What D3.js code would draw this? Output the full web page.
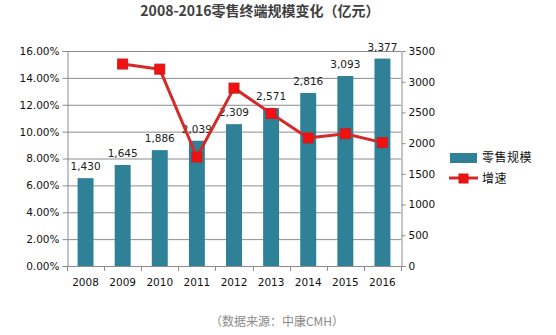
<!DOCTYPE html>
<html><head><meta charset="utf-8">
<script src="https://cdn.jsdelivr.net/npm/d3@7"></script>
<style>body{margin:0;background:#fff}svg{display:block}</style>
</head><body><svg id="c" width="556" height="335"></svg>
<script>
const years = ["2008","2009","2010","2011","2012","2013","2014","2015","2016"];
const scale = [1430,1645,1886,2039,2309,2571,2816,3093,3377];
const growthYears = ["2009","2010","2011","2012","2013","2014","2015","2016"];
const growth = [0.1503,0.1465,0.0811,0.1324,0.1135,0.0953,0.0984,0.0918];
const leftTicks = [0,0.02,0.04,0.06,0.08,0.10,0.12,0.14,0.16];
const rightTicks = [0,500,1000,1500,2000,2500,3000,3500];
const title = "2008-2016零售终端规模变化（亿元）";
const source = "（数据来源：中康CMH）";
const seriesNames = ["零售规模","增速"];

const svg = d3.select("#c");
const L=67,R=401,T=51,B=266;
const barColor="#2F8198", lineColor="#D42A2A", markColor="#F21010";
const numFont="'DejaVu Sans', Verdana, sans-serif";
const cjk="'Noto Sans CJK SC', sans-serif";

const x = d3.scaleBand().domain(years).range([L,R]).paddingInner(0.57).paddingOuter(0.285);
const yL = d3.scaleLinear().domain([0,0.16]).range([B,T]);
const yR = d3.scaleLinear().domain([0,3500]).range([B,T]);

svg.append("text").attr("x",260).attr("y",16).attr("text-anchor","middle")
  .attr("font-family",cjk).attr("font-weight","bold").attr("font-size",14).attr("fill","#404040").text(title);

// gridlines
svg.append("g").selectAll("line").data(leftTicks).join("line")
  .attr("x1",L).attr("x2",R).attr("y1",d=>yL(d)+0.5).attr("y2",d=>yL(d)+0.5)
  .attr("stroke","#8c8c8c").attr("stroke-width",1);

// left axis
const gl = svg.append("g").attr("transform",`translate(${L+0.5},0)`)
  .call(d3.axisLeft(yL).tickValues(leftTicks).tickFormat(d=>(d*100).toFixed(2)+"%").tickSize(5).tickPadding(3));
gl.select(".domain").attr("stroke","#8c8c8c");
gl.selectAll(".tick line").attr("stroke","#8c8c8c");
gl.selectAll("text").attr("font-family",numFont).attr("font-size",10.5).attr("fill","#111");

// right axis
const gr = svg.append("g").attr("transform",`translate(${R+0.5},0)`)
  .call(d3.axisRight(yR).tickValues(rightTicks).tickFormat(d3.format("d")).tickSize(4).tickPadding(3));
gr.select(".domain").attr("stroke","#8c8c8c");
gr.selectAll(".tick line").attr("stroke","#8c8c8c");
gr.selectAll("text").attr("font-family",numFont).attr("font-size",10.5).attr("fill","#111");

// x axis
svg.append("line").attr("x1",L).attr("x2",R).attr("y1",B+0.5).attr("y2",B+0.5).attr("stroke","#8c8c8c");
const step = x.step();
svg.append("g").selectAll("line").data(d3.range(years.length+1)).join("line")
  .attr("x1",i=>Math.round(L+i*step)+0.5).attr("x2",i=>Math.round(L+i*step)+0.5)
  .attr("y1",B).attr("y2",B+5).attr("stroke","#8c8c8c");
svg.append("g").selectAll("text").data(years).join("text")
  .attr("x",d=>x(d)+x.bandwidth()/2).attr("y",B+20).attr("text-anchor","middle")
  .attr("font-family",numFont).attr("font-size",10.5).attr("fill","#111").text(d=>d);

// bars
svg.append("g").selectAll("rect").data(years).join("rect")
  .attr("x",d=>x(d)).attr("width",x.bandwidth())
  .attr("y",(d,i)=>yR(scale[i])).attr("height",(d,i)=>B-yR(scale[i])).attr("fill",barColor);

// bar labels
svg.append("g").selectAll("text").data(years).join("text")
  .attr("x",d=>x(d)+x.bandwidth()/2).attr("y",(d,i)=>yR(scale[i])-8).attr("text-anchor","middle")
  .attr("font-family",numFont).attr("font-size",10.5).attr("fill","#222").text((d,i)=>d3.format(",")(scale[i]));

// line
const pts = growthYears.map((d,i)=>[x(d)+x.bandwidth()/2, yL(growth[i])]);
svg.append("path").attr("d",d3.line()(pts)).attr("fill","none").attr("stroke",lineColor).attr("stroke-width",3).attr("stroke-linejoin","round");
svg.append("g").selectAll("rect").data(pts).join("rect")
  .attr("x",d=>d[0]-5).attr("y",d=>d[1]-5).attr("width",10).attr("height",10)
  .attr("fill",markColor).attr("stroke","#c02020").attr("stroke-width",1);

// legend
const lg = svg.append("g");
lg.append("rect").attr("x",450).attr("y",153).attr("width",27).attr("height",10).attr("fill",barColor);
lg.append("line").attr("x1",449).attr("x2",478).attr("y1",178).attr("y2",178).attr("stroke",lineColor).attr("stroke-width",3);
lg.append("rect").attr("x",459).attr("y",174).attr("width",9).attr("height",9).attr("fill",markColor).attr("stroke","#c02020");
lg.selectAll("text.l").data(seriesNames).join("text").attr("class","l")
  .attr("x",482).attr("y",(d,i)=>162+i*21).attr("font-family",cjk).attr("font-size",12)
  .attr("letter-spacing",0.5).attr("fill","#111").text(d=>d);

// source
svg.append("text").attr("x",277).attr("y",326).attr("text-anchor","middle")
  .attr("font-family",cjk).attr("font-size",12).attr("fill","#8a8a8a").text(source);
</script></body></html>
